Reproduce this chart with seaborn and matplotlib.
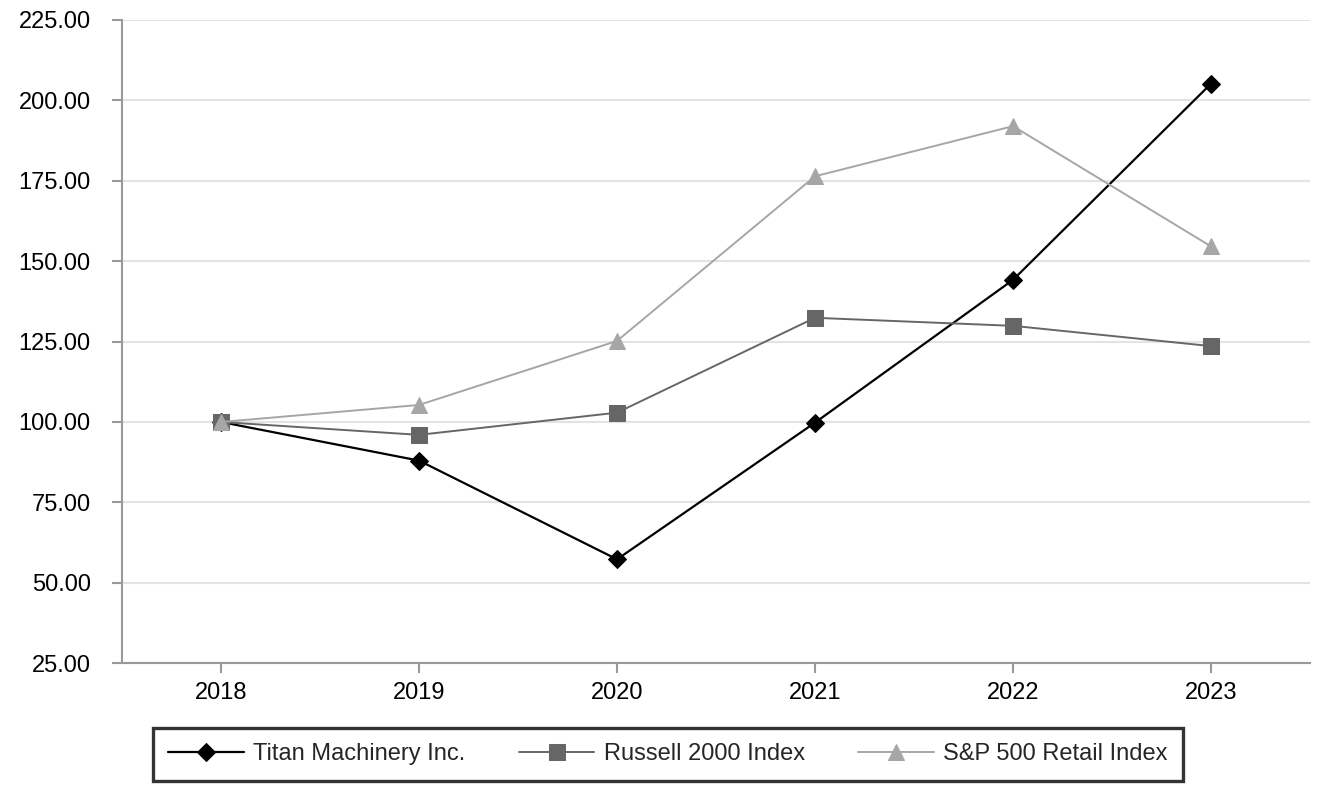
import numpy as np
import pandas as pd
import matplotlib
matplotlib.use('Agg')
import matplotlib.pyplot as plt
import seaborn as sns

sns.set_style('white')
plt.rcParams['font.family'] = ['Liberation Sans', 'DejaVu Sans']

years = [2018, 2019, 2020, 2021, 2022, 2023]
titan = [100.0, 88.0, 57.3, 99.8, 144.2, 205.2]
russell = [100.0, 96.0, 102.9, 132.4, 129.9, 123.6]
sp_retail = [100.0, 105.3, 125.2, 176.4, 192.0, 154.6]

series_names = ['Titan Machinery Inc.', 'Russell 2000 Index', 'S&P 500 Retail Index']
colors = ['#000000', '#666666', '#a6a6a6']
markers = ['D', 's', '^']
marker_sizes = [9, 11, 11]
y_ticks = [25, 50, 75, 100, 125, 150, 175, 200, 225]

df = pd.DataFrame({
    'Year': years * 3,
    'Value': titan + russell + sp_retail,
    'Series': sum([[n] * len(years) for n in series_names], []),
})

fig = plt.figure(figsize=(13.32, 8), dpi=100)
ax = fig.add_axes([0.0916, 0.171, 0.8919, 0.804])

for name, col, mk, ms in zip(series_names, colors, markers, marker_sizes):
    sub = df[df['Series'] == name]
    sns.lineplot(
        x='Year', y='Value', data=sub, ax=ax, color=col, marker=mk,
        markersize=ms, markeredgecolor=col, linewidth=1.6 if col == '#000000' else 1.4,
        label=name,
    )

ax.set_xlim(years[0] - 0.5, years[-1] + 0.5)
ax.set_ylim(25, 225)
ax.set_xticks(years)
ax.set_xticklabels([str(y) for y in years])
ax.set_yticks(y_ticks)
ax.set_yticklabels(['{:.2f}'.format(v) for v in y_ticks])
ax.set_xlabel('')
ax.set_ylabel('')

ax.yaxis.grid(True, color='#e3e3e3', linewidth=1.5)
ax.xaxis.grid(False)
ax.set_axisbelow(True)

for side in ['top', 'right']:
    ax.spines[side].set_visible(False)
for side in ['left', 'bottom']:
    ax.spines[side].set_color('#999999')
    ax.spines[side].set_linewidth(1.5)

ax.tick_params(axis='both', which='both', length=7.5, width=1.5, color='#999999',
               labelsize=17, labelcolor='#000000', direction='out')
ax.tick_params(axis='x', pad=6, bottom=True)
ax.tick_params(axis='y', pad=15, left=True)

ax.legend_.remove()
handles, labels = ax.get_legend_handles_labels()
leg = fig.legend(
    handles, labels, loc='center', bbox_to_anchor=(0.5015, 0.057), ncol=3,
    fontsize=17, frameon=True, fancybox=False, handlelength=3.2,
    columnspacing=2.25, handletextpad=0.4, borderpad=0.65, borderaxespad=0,
)
leg.get_frame().set_edgecolor('#000000')
leg.get_frame().set_linewidth(2.4)

fig.savefig('out.png', dpi=100)
